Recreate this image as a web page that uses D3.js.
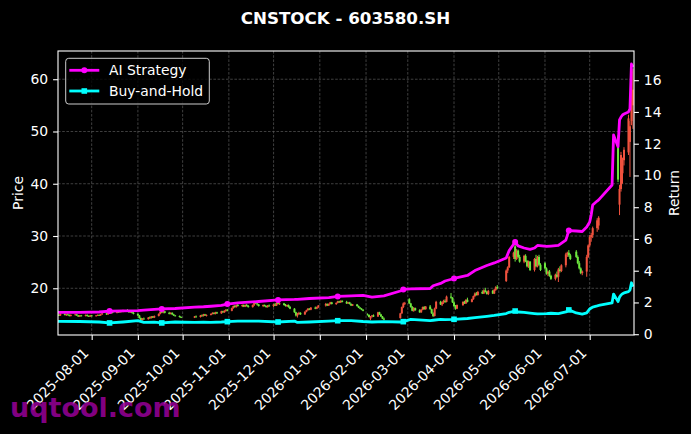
<!DOCTYPE html>
<html><head><meta charset="utf-8">
<script src="https://cdn.jsdelivr.net/npm/d3@7"></script>
<style>body{margin:0;background:#000;overflow:hidden}text{font-family:"DejaVu Sans",sans-serif}</style>
</head><body><svg id="c" width="691" height="434"></svg>
<script>
// ---------------- DATA ----------------
const chartTitle = "CNSTOCK - 603580.SH";
const watermark = "uqtool.com";
const seriesNames = ["AI Strategy", "Buy-and-Hold"];

// trading days with candles
const candleMonths = ["2025-07","2025-08","2025-09","2025-10","2025-11","2025-12","2026-01","2026-02","2026-03","2026-04","2026-05","2026-06","2026-07"];
const candleDays = [
 [9,10,11,14,15,16,17,18,21,22,23,24,25,28,29,30,31],
 [1,4,5,6,7,8,11,12,13,14,15,18,19,20,21,22,25,26,27,28,29],
 [1,2,3,4,5,8,9,10,11,12,15,16,17,18,19,22,23,24,25,26,29,30],
 [9,10,13,14,15,16,17,20,21,22,23,24,27,28,29,30,31],
 [3,4,5,6,7,10,11,12,13,14,17,18,19,20,21,24,25,26,27,28],
 [1,2,3,4,5,8,9,10,11,12,15,16,17,18,19,22,23,24,25,26,29,30,31],
 [5,6,7,8,9,12,13,14,15,16,19,20,21,22,23,26,27,28,29,30],
 [2,3,4,5,6,9,10,11,12,13,24,25,26,27],
 [2,3,4,5,6,9,10,11,12,13,16,17,18,19,20,23,24,25,26,27,30,31],
 [1,2,3,7,8,9,10,13,14,15,16,17,20,21,22,23,24,27,28,29,30],
 [6,7,8,11,12,13,14,15,18,19,20,21,22,25,26,27,28,29],
 [1,2,3,4,5,8,9,10,11,12,15,16,17,18,22,23,24,25,26,29,30],
 [1,2,3,6,7,20,21,22,23,24,27,28,29,30]
];
const opens = [
 14.7,14.9,14.8,15.1,14.9,15.0,14.9,14.7,14.9,15.0,14.8,14.6,14.8,14.7,14.9,14.7,14.6,
 14.8,14.7,14.8,14.9,14.8,15.0,15.2,15.0,15.3,15.2,15.5,15.3,15.6,15.4,15.7,15.5,15.8,15.6,15.4,15.6,15.3,
 15.1,14.8,14.3,13.9,14.2,14.1,14.4,14.3,14.6,14.4,14.7,15.1,15.5,15.4,15.6,15.3,15.1,15.3,15.0,14.8,14.7,14.5,
 14.4,14.6,14.5,14.8,14.7,15.0,14.8,14.9,15.1,15.3,15.1,15.4,15.2,15.6,15.4,15.7,15.9,
 15.7,16.2,16.6,16.4,16.8,16.6,16.8,16.5,16.8,16.6,16.4,16.8,17.3,17.1,16.9,16.6,16.8,16.6,16.4,16.7,
 16.6,16.9,16.7,17.2,17.0,17.1,16.8,16.6,16.8,16.4,16.1,15.4,14.8,15.1,15.3,15.0,15.5,15.8,16.1,15.9,16.3,16.1,16.4,
 16.7,17.0,16.7,17.0,17.3,17.0,17.2,17.5,17.3,17.6,17.4,17.1,17.3,17.0,16.7,16.9,16.6,16.3,16.1,15.9,
 15.0,14.9,14.2,14.6,14.8,14.6,15.4,15.0,14.6,14.2,14.3,15.2,16.4,17.1,
 17.9,17.1,16.4,15.7,16.2,15.8,15.4,15.9,16.4,16.0,16.5,16.0,15.2,14.7,16.1,17.4,16.9,17.3,17.6,17.4,18.4,18.2,
 17.3,16.6,16.1,16.8,17.4,17.1,17.8,17.4,17.9,18.5,19.0,18.7,19.3,19.0,19.6,19.3,18.9,19.5,19.0,19.7,20.2,
 21.4,23.4,24.0,26.0,28.0,25.6,27.2,26.0,25.1,26.2,25.2,24.2,25.1,23.5,25.6,24.2,26.0,24.5,
 24.8,23.8,22.8,23.2,22.4,21.8,22.6,22.2,23.6,23.3,24.4,26.5,26.8,26.3,27.0,26.0,24.8,23.8,22.9,23.2,26.0,
 28.2,29.8,30.2,31.5,32.0,49.0,36.0,39.0,42.0,44.5,46.0,48.0,52.0,55.0
];
const highs = [
 15.0,15.1,15.2,15.2,15.1,15.2,15.0,15.0,15.1,15.1,14.9,14.9,14.9,15.0,15.0,14.8,14.9,
 14.9,14.9,15.0,15.0,15.1,15.3,15.3,15.4,15.5,15.6,15.6,15.7,15.7,15.8,15.8,15.9,16.0,15.8,15.7,15.7,15.5,
 15.2,14.9,14.4,14.3,14.4,14.5,14.6,14.7,14.7,14.8,15.2,15.6,15.8,15.7,15.7,15.5,15.4,15.4,15.1,14.9,14.8,14.6,
 14.7,14.8,14.9,15.0,15.1,15.1,15.0,15.2,15.4,15.4,15.5,15.5,15.7,15.7,15.8,16.0,16.0,
 16.3,16.7,16.8,16.9,17.0,16.9,16.9,16.9,17.0,16.8,16.9,17.5,17.5,17.3,17.0,16.9,16.9,16.7,16.8,16.9,
 17.0,17.2,17.3,17.4,17.3,17.2,17.0,16.9,16.9,16.6,16.2,15.5,15.3,15.5,15.4,15.6,15.9,16.2,16.2,16.4,16.5,16.5,16.8,
 17.2,17.1,17.1,17.4,17.4,17.3,17.6,17.6,17.7,17.7,17.6,17.4,17.4,17.1,17.0,17.0,16.7,16.4,16.2,16.0,
 15.2,15.0,14.7,14.9,15.0,15.5,15.5,15.1,14.7,14.4,15.3,16.5,17.3,17.4,
 18.1,17.2,16.6,16.4,16.3,16.0,16.0,16.5,16.6,16.6,16.8,16.1,15.4,16.3,17.6,17.6,17.5,17.8,17.9,18.6,19.1,18.3,
 17.5,16.8,16.9,17.5,17.6,17.9,18.2,18.0,18.6,19.2,19.3,19.5,19.6,19.8,20.1,19.5,19.7,19.7,19.9,20.4,20.6,
 23.6,24.2,26.2,27.0,28.3,27.5,27.4,26.4,26.4,26.5,25.4,25.3,25.2,25.8,26.4,26.2,26.4,24.8,
 25.0,24.0,23.4,23.5,22.6,22.8,23.2,23.9,24.2,24.6,26.8,27.0,27.3,26.6,27.3,26.3,25.2,24.0,23.4,26.4,28.4,
 30.2,30.6,31.8,33.4,33.8,49.3,39.8,46.1,45.0,47.0,53.2,52.0,62.9,62.0
];
const lows = [
 14.6,14.7,14.7,14.8,14.7,14.8,14.6,14.6,14.8,14.7,14.5,14.5,14.6,14.6,14.6,14.5,14.5,
 14.6,14.6,14.7,14.7,14.7,14.9,14.9,14.9,15.1,15.1,15.2,15.2,15.3,15.3,15.4,15.4,15.5,15.3,15.3,15.2,15.0,
 14.7,14.2,13.7,13.8,14.0,14.0,14.2,14.2,14.3,14.3,14.6,15.0,15.3,15.2,15.2,15.0,15.0,14.9,14.7,14.6,14.4,14.3,
 14.3,14.4,14.4,14.6,14.6,14.7,14.6,14.8,15.0,15.0,15.0,15.1,15.1,15.3,15.3,15.5,15.6,
 15.6,16.1,16.3,16.3,16.5,16.4,16.4,16.4,16.5,16.3,16.3,16.6,17.0,16.7,16.5,16.4,16.5,16.3,16.3,16.5,
 16.4,16.6,16.6,16.9,16.8,16.7,16.5,16.4,16.3,16.0,15.3,14.6,14.4,14.9,14.9,14.9,15.4,15.7,15.8,15.8,16.0,16.0,16.2,
 16.5,16.6,16.6,16.9,16.9,16.8,17.1,17.2,17.2,17.3,17.0,17.0,16.9,16.6,16.6,16.5,16.2,16.0,15.8,15.6,
 14.8,14.4,13.9,14.4,14.5,14.5,14.9,14.5,14.1,13.9,14.2,15.1,16.2,16.8,
 17.0,16.3,15.6,15.5,15.7,15.3,15.3,15.8,15.9,15.9,15.9,15.1,14.5,14.6,16.0,16.8,16.6,17.0,17.2,17.3,18.0,17.2,
 16.4,15.9,16.0,16.6,17.0,17.0,17.3,17.3,17.8,18.3,18.6,18.6,18.9,18.9,19.2,18.8,18.7,18.9,18.9,19.5,19.8,
 21.2,22.9,23.9,25.6,25.1,25.4,25.8,24.9,24.8,25.0,24.0,23.9,23.3,23.2,24.0,24.0,24.3,23.3,
 23.6,22.6,22.3,22.2,21.6,21.5,22.0,21.2,23.0,23.1,24.0,26.0,26.0,25.4,25.8,24.6,23.6,22.7,22.5,22.2,25.8,
 27.8,28.9,29.6,30.8,31.2,40.3,34.0,38.5,40.0,43.5,45.5,41.3,51.2,50.5
];
const closes = [
 14.9,14.8,15.1,14.9,15.0,14.9,14.7,14.9,15.0,14.8,14.6,14.8,14.7,14.9,14.7,14.6,14.8,
 14.7,14.8,14.9,14.8,15.0,15.2,15.0,15.3,15.2,15.5,15.3,15.6,15.4,15.7,15.5,15.8,15.6,15.4,15.6,15.3,15.1,
 14.8,14.3,13.9,14.2,14.1,14.4,14.3,14.6,14.4,14.7,15.1,15.5,15.4,15.6,15.3,15.1,15.3,15.0,14.8,14.7,14.5,14.4,
 14.6,14.5,14.8,14.7,15.0,14.8,14.9,15.1,15.3,15.1,15.4,15.2,15.6,15.4,15.7,15.9,15.7,
 16.2,16.6,16.4,16.8,16.6,16.8,16.5,16.8,16.6,16.4,16.8,17.3,17.1,16.9,16.6,16.8,16.6,16.4,16.7,16.6,
 16.9,16.7,17.2,17.0,17.1,16.8,16.6,16.8,16.4,16.1,15.4,14.8,15.1,15.3,15.0,15.5,15.8,16.1,15.9,16.3,16.1,16.4,16.7,
 17.0,16.7,17.0,17.3,17.0,17.2,17.5,17.3,17.6,17.4,17.1,17.3,17.0,16.7,16.9,16.6,16.3,16.1,15.9,15.7,
 14.9,14.5,14.6,14.8,14.6,15.4,15.0,14.6,14.2,14.0,15.2,16.4,17.1,17.2,
 17.1,16.4,15.7,16.2,15.8,15.4,15.9,16.4,16.0,16.5,16.0,15.2,14.7,16.1,17.4,16.9,17.3,17.6,17.4,18.4,18.2,17.3,
 16.6,16.1,16.8,17.4,17.1,17.8,17.4,17.9,18.5,19.0,18.7,19.3,19.0,19.6,19.3,18.9,19.5,19.0,19.7,20.2,20.0,
 23.4,24.0,26.0,26.8,25.6,27.2,26.0,25.1,26.2,25.2,24.2,25.1,23.5,25.6,24.2,26.0,24.5,23.5,
 23.8,22.8,23.2,22.4,21.8,22.6,22.2,23.6,23.3,24.4,26.5,26.8,26.3,25.6,26.0,24.8,23.8,22.9,23.2,26.0,28.2,
 29.8,30.2,31.5,33.0,33.5,40.8,39.0,45.5,44.5,46.5,52.5,51.0,61.5,58.0
];

// return lines (right axis)
const lineDates = ["2025-07-09","2025-07-24","2025-08-06","2025-08-13","2025-08-22","2025-09-01","2025-09-05","2025-09-12","2025-09-17","2025-09-26",
 "2025-10-09","2025-10-15","2025-10-20","2025-10-27","2025-10-31","2025-11-07","2025-11-21","2025-12-04","2025-12-15","2025-12-17",
 "2025-12-25","2026-01-07","2026-01-13","2026-01-22","2026-01-30","2026-02-05","2026-02-13","2026-02-24","2026-02-26","2026-03-03",
 "2026-03-16","2026-03-18","2026-03-23","2026-03-26","2026-04-01","2026-04-10","2026-04-15","2026-04-23","2026-04-28","2026-05-06",
 "2026-05-08","2026-05-12","2026-05-14","2026-05-18","2026-05-22","2026-05-25","2026-05-27","2026-06-02","2026-06-05","2026-06-10",
 "2026-06-15","2026-06-17","2026-06-22","2026-06-26","2026-06-29","2026-07-01","2026-07-02","2026-07-03","2026-07-06","2026-07-07",
 "2026-07-16","2026-07-17","2026-07-20","2026-07-21","2026-07-22","2026-07-23","2026-07-24","2026-07-27","2026-07-28","2026-07-29","2026-07-30"];
const aiReturn = [1.37,1.38,1.40,1.46,1.47,1.49,1.52,1.56,1.59,1.62,
 1.71,1.73,1.76,1.81,1.90,1.97,2.06,2.16,2.19,2.20,
 2.25,2.31,2.38,2.42,2.44,2.34,2.41,2.72,2.82,2.85,
 2.88,3.05,3.20,3.35,3.51,3.70,4.01,4.33,4.49,4.80,
 5.27,5.81,5.56,5.43,5.34,5.43,5.59,5.53,5.55,5.59,
 5.93,6.53,6.50,6.47,6.75,7.07,7.51,8.14,8.39,8.46,
 9.40,12.55,11.81,13.50,13.68,13.81,13.87,14.00,14.20,17.02,16.83];
const bhReturn = [0.81,0.80,0.77,0.71,0.77,0.85,0.74,0.76,0.71,0.77,
 0.74,0.76,0.75,0.77,0.79,0.82,0.83,0.77,0.83,0.74,
 0.77,0.83,0.85,0.86,0.80,0.77,0.79,0.77,0.79,0.93,
 0.86,0.88,0.93,0.92,0.94,0.99,1.04,1.12,1.18,1.30,
 1.38,1.46,1.40,1.37,1.33,1.30,1.28,1.30,1.32,1.30,
 1.40,1.53,1.34,1.27,1.34,1.59,1.65,1.71,1.78,1.81,
 1.97,2.53,2.05,2.34,2.47,2.55,2.60,2.68,2.78,3.24,2.99];
const markerDates = ["2025-08-13","2025-09-17","2025-10-31","2025-12-04","2026-01-13","2026-02-26","2026-04-01","2026-05-12","2026-06-17"];

const xTickLabels = ["2025-08-01","2025-09-01","2025-10-01","2025-11-01","2025-12-01","2026-01-01","2026-02-01","2026-03-01","2026-04-01","2026-05-01","2026-06-01","2026-07-01"];
const priceTicks = [20,30,40,50,60];
const returnTicks = [0,2,4,6,8,10,12,14,16];

// ---------------- DRAW ----------------
const parse = d3.utcParse("%Y-%m-%d");
const L = 58, R = 634, T = 51, B = 335;
const FS = 13.9;
const svg = d3.select("#c");
svg.append("rect").attr("width",691).attr("height",434).attr("fill","#000");

const x = d3.scaleUtc().domain([new Date(Date.UTC(2025,6,9,10)), new Date(Date.UTC(2026,6,30,17))]).range([L,R]);
const yP = d3.scaleLinear().domain([11.06,65.4]).range([B,T]);
const yR = d3.scaleLinear().domain([-0.05,17.84]).range([B,T]);

const candles = [];
candleMonths.forEach((m,i)=>candleDays[i].forEach(d=>candles.push(parse(m+"-"+String(d).padStart(2,"0")))));
const cData = candles.map((d,i)=>({d,o:opens[i],h:highs[i],l:lows[i],c:closes[i]}));

svg.append("clipPath").attr("id","clip").append("rect").attr("x",L).attr("y",T).attr("width",R-L).attr("height",B-T);

// grid
const grid = svg.append("g").attr("stroke","#5a5a5a").attr("stroke-width",0.7).attr("stroke-dasharray","2.6,1.6");
priceTicks.forEach(v=>grid.append("line").attr("x1",L).attr("x2",R).attr("y1",yP(v)).attr("y2",yP(v)));
xTickLabels.forEach(s=>grid.append("line").attr("y1",T).attr("y2",B).attr("x1",x(parse(s))).attr("x2",x(parse(s))));

// candles
const RED = "#f0523e", GREEN = "#6ee83e";
const cg = svg.append("g").attr("clip-path","url(#clip)");
cg.selectAll("line.w").data(cData).join("line")
  .attr("x1",d=>x(d.d)).attr("x2",d=>x(d.d)).attr("y1",d=>yP(d.h)).attr("y2",d=>yP(d.l))
  .attr("stroke",d=>d.c>=d.o?RED:GREEN).attr("stroke-width",1);
cg.selectAll("rect.b").data(cData).join("rect")
  .attr("x",d=>x(d.d)-1).attr("width",2)
  .attr("y",d=>yP(Math.max(d.o,d.c))).attr("height",d=>Math.max(0.8,Math.abs(yP(d.o)-yP(d.c))))
  .attr("fill",d=>d.c>=d.o?RED:GREEN);

// lines
const lg = svg.append("g").attr("clip-path","url(#clip)");
const ld = lineDates.map(parse);
const mk = new Set(markerDates);
const line = d3.line().x(d=>x(d[0])).y(d=>yR(d[1]));
lg.append("path").datum(ld.map((d,i)=>[d,bhReturn[i]])).attr("d",line).attr("fill","none").attr("stroke","#00ffff").attr("stroke-width",2.8).attr("stroke-linejoin","round");
lg.append("path").datum(ld.map((d,i)=>[d,aiReturn[i]])).attr("d",line).attr("fill","none").attr("stroke","#ff00ff").attr("stroke-width",2.8).attr("stroke-linejoin","round");
lineDates.forEach((s,i)=>{
  if(!mk.has(s)) return;
  lg.append("rect").attr("x",x(ld[i])-2.8).attr("y",yR(bhReturn[i])-2.8).attr("width",5.6).attr("height",5.6).attr("fill","#00ffff");
  lg.append("circle").attr("cx",x(ld[i])).attr("cy",yR(aiReturn[i])).attr("r",3).attr("fill","#ff00ff");
});

// spines
svg.append("rect").attr("x",L).attr("y",T).attr("width",R-L).attr("height",B-T).attr("fill","none").attr("stroke","#fff").attr("stroke-width",1.1);

// axes
function styleAxis(g){
  g.select(".domain").remove();
  g.selectAll(".tick line").attr("stroke","#fff").attr("stroke-width",1.1);
  g.selectAll(".tick text").attr("fill","#fff").attr("font-size",FS).attr("font-family","DejaVu Sans");
}
svg.append("g").attr("transform",`translate(${L},0)`).call(d3.axisLeft(yP).tickValues(priceTicks).tickSize(4.9).tickPadding(4.9).tickFormat(d3.format("d"))).call(styleAxis);
svg.append("g").attr("transform",`translate(${R},0)`).call(d3.axisRight(yR).tickValues(returnTicks).tickSize(4.9).tickPadding(4.9).tickFormat(d3.format("d"))).call(styleAxis);
svg.append("g").attr("transform",`translate(0,${B})`).call(d3.axisBottom(x).tickValues(xTickLabels.map(parse)).tickSize(4.9).tickFormat("")).call(styleAxis);

// rotated x labels
const xl = svg.append("g");
xTickLabels.forEach(s=>{
  const tx = x(parse(s));
  const t = xl.append("text").attr("fill","#fff").attr("font-size",FS).attr("text-anchor","end").attr("transform","rotate(-45)").text(s);
  const bb = t.node().getBoundingClientRect();
  t.attr("transform",`translate(${tx-bb.right},${B+9.8-bb.top}) rotate(-45)`);
});

// axis labels
svg.append("text").attr("transform","translate(22.5,193) rotate(-90)").attr("text-anchor","middle").attr("fill","#fff").attr("font-size",FS).text("Price");
svg.append("text").attr("transform","translate(678.5,193) rotate(-90)").attr("text-anchor","middle").attr("fill","#fff").attr("font-size",FS).text("Return");

// title
svg.append("text").attr("x",345.5).attr("y",24).attr("text-anchor","middle").attr("fill","#fff").attr("font-size",16.7).attr("font-weight","bold").text(chartTitle);

// legend
const lgd = svg.append("g");
lgd.append("rect").attr("x",65.7).attr("y",58.3).attr("width",143.6).attr("height",45.7).attr("rx",3).attr("fill","#000").attr("fill-opacity",0.8).attr("stroke","#cccccc").attr("stroke-width",1);
const legendColors = ["#ff00ff","#00ffff"];
seriesNames.forEach((n,i)=>{
  const yy = 70.3 + i*20.7;
  lgd.append("line").attr("x1",69.3).attr("x2",99.3).attr("y1",yy).attr("y2",yy).attr("stroke",legendColors[i]).attr("stroke-width",2.8);
  if(i===0) lgd.append("circle").attr("cx",84.3).attr("cy",yy).attr("r",3).attr("fill",legendColors[i]);
  else lgd.append("rect").attr("x",84.3-2.8).attr("y",yy-2.8).attr("width",5.6).attr("height",5.6).attr("fill",legendColors[i]);
  lgd.append("text").attr("x",109).attr("y",yy+5).attr("fill","#fff").attr("font-size",FS).text(n);
});

// watermark
svg.append("text").attr("x",10).attr("y",417).attr("fill","#9a009a").attr("fill-opacity",0.85).attr("font-size",27).attr("font-weight","bold").text(watermark);
</script></body></html>
